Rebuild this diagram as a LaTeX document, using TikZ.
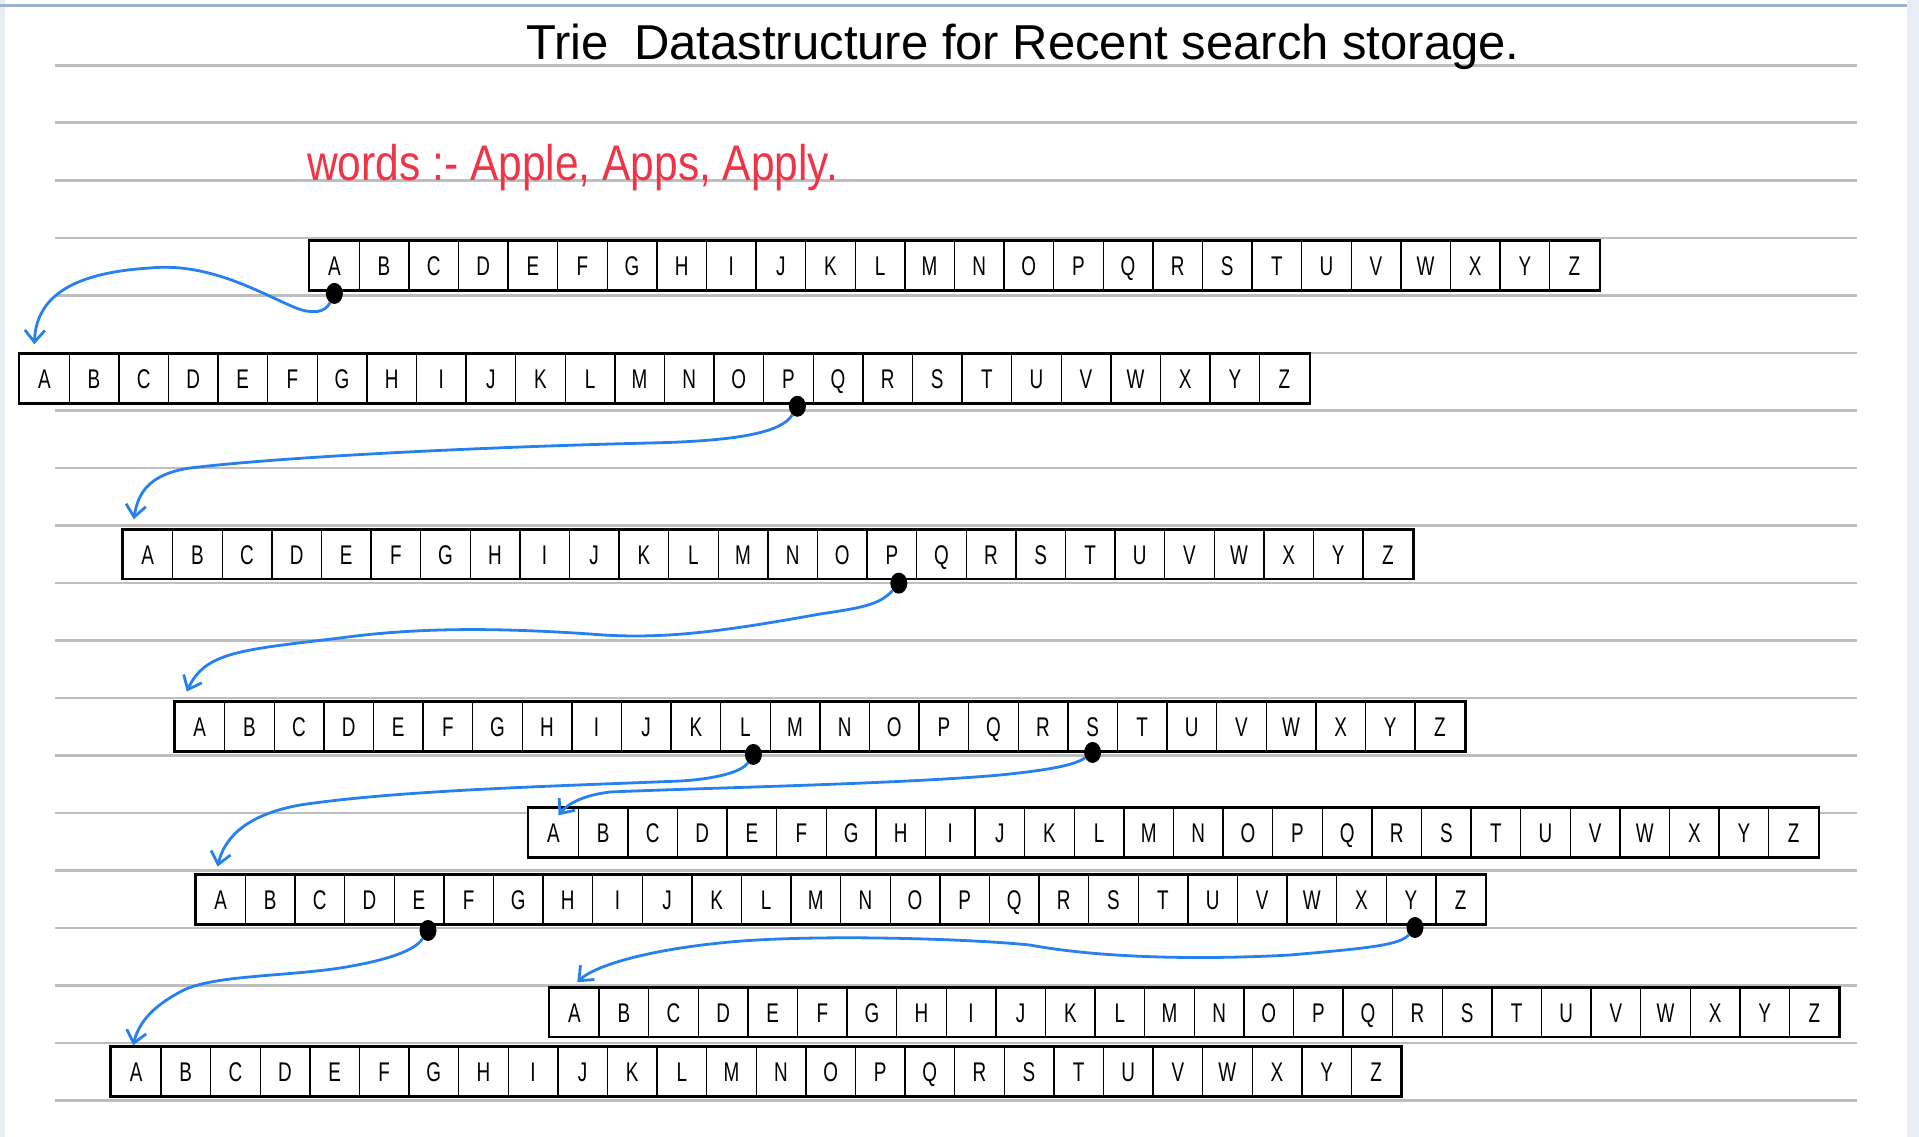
\documentclass[tikz,border=0pt]{standalone}
\usepackage{fontspec}
\usepackage{xcolor}
\usepackage{tikz}
\usetikzlibrary{arrows.meta, shapes.geometric}
\newfontfamily\handfont[FakeStretch=0.7]{Liberation Sans}
\newfontfamily\notefont[FakeStretch=0.85]{Liberation Sans}
\newfontfamily\titlefont{Liberation Sans}
\definecolor{inkblue}{RGB}{38, 128, 238}
\definecolor{inkred}{RGB}{240, 52, 72}
\definecolor{rulegray}{RGB}{190, 190, 190}
\definecolor{edgeblue}{RGB}{155, 178, 210}
\definecolor{marginblue}{RGB}{232, 237, 246}
\newcommand{\trierow}[3]{
\foreach \ch [count=\i] in {A,B,C,D,E,F,G,H,I,J,K,L,M,N,O,P,Q,R,S,T,U,V,W,X,Y,Z}
{
    \node[cell] (#1-\i) at ({#2+(\i-0.5)*49.6},#3) {\ch};
}
\draw[line width=2.6pt] (#1-1.north west) rectangle (#1-26.south east);
}

\begin{document}
\begin{tikzpicture}[x=1pt, y=-1pt,
    cell/.style={draw, fill=white, line width=1.4pt, minimum width=49.6pt,
        minimum height=48.5pt, inner sep=0pt, text height=20pt, text depth=0pt,
        font=\handfont\fontsize{27}{30}\selectfont},
    rule/.style={rulegray, line width=2.6pt},
    link/.style={inkblue, line width=2.8pt, -{Straight Barb[length=12pt, width=20pt]}},
    dot/.style={ellipse, fill=black, inner sep=0pt, minimum width=17pt, minimum height=21pt}]
    \useasboundingbox (0,0) rectangle (1919,1137);
    \fill[white] (0,0) rectangle (1919,1137);
    \fill[marginblue] (0,0) rectangle (5,1137);
    \fill[marginblue] (1907,0) rectangle (1919,1137);
    \draw[edgeblue, line width=3pt] (0,6) -- (1907,6);
    \foreach \k in {0,...,18}
    {
        \draw[rule] (55,{65.3+57.5*\k}) -- (1857,{65.3+57.5*\k});
    }
    \node[anchor=base west, inner sep=0pt, font=\titlefont\fontsize{49}{54}\selectfont] (title)
        at (526,60) {Trie\hspace{12pt} Datastructure for Recent search storage.};
    \node[anchor=base west, inner sep=0pt, text=inkred, font=\notefont\fontsize{50}{54}\selectfont] (words)
        at (307,180) {words :- Apple, Apps, Apply.};
    \trierow{r1}{309.6}{265.5}
    \trierow{r2}{19.6}{378.3}
    \trierow{r3}{123}{554.2}
    \trierow{r4}{175}{726.5}
    \trierow{r5}{528.7}{832.3}
    \trierow{r6}{195.8}{899.5}
    \trierow{r7}{549.5}{1012.2}
    \trierow{r8}{111.4}{1071.3}
    \node[dot] (d1) at ([yshift=-3pt]r1-1.south) {};
    \node[dot] (d2) at ([xshift=9pt, yshift=-3pt]r2-16.south) {};
    \node[dot] (d3) at ([xshift=7pt, yshift=-4pt]r3-16.south) {};
    \node[dot] (d4) at ([xshift=8pt, yshift=-3pt]r4-12.south) {};
    \node[dot] (d5) at ([yshift=-1pt]r4-19.south) {};
    \node[dot] (d6) at ([xshift=9pt, yshift=-6pt]r6-5.south) {};
    \node[dot] (d7) at ([xshift=4pt, yshift=-3pt]r6-25.south) {};
    \coordinate (t1) at ([xshift=-10pt, yshift=9pt]r2-1.north);
    \coordinate (t2) at ([xshift=-14pt, yshift=10pt]r3-1.north);
    \coordinate (t3) at ([xshift=-13pt, yshift=10pt]r4-1.north);
    \coordinate (t4) at ([xshift=-3pt, yshift=8pt]r6-1.north);
    \coordinate (t5) at ([xshift=5pt, yshift=-8pt]r5-1.north);
    \coordinate (t6) at ([xshift=-3pt, yshift=1pt]r8-1.north);
    \coordinate (t7) at ([xshift=3pt, yshift=5pt]r7-1.north);
    \draw[link] (d1) .. controls (325,313) and (312,314) .. (296,308)
        .. controls (262,294) and (210,262) .. (150,268)
        .. controls (85,272) and (36,290) .. (t1);
    \draw[link] (d2) .. controls (782,432) and (740,441) .. (650,443)
        .. controls (520,446) and (300,455) .. (190,468)
        .. controls (150,474) and (138,492) .. (t2);
    \draw[link] (d3) .. controls (880,605) and (860,608) .. (820,614)
        .. controls (720,632) and (660,640) .. (590,634)
        .. controls (500,628) and (420,627) .. (340,638)
        .. controls (240,650) and (205,652) .. (t3);
    \draw[link] (d4) .. controls (742,772) and (715,779) .. (680,781)
        .. controls (560,786) and (400,790) .. (300,805)
        .. controls (250,814) and (225,835) .. (t4);
    \draw[link] (d5) .. controls (1075,765) and (1050,770) .. (1000,775)
        .. controls (900,784) and (700,788) .. (610,792)
        .. controls (585,795) and (568,803) .. (t5);
    \draw[link] (d6) .. controls (415,950) and (390,960) .. (340,968)
        .. controls (280,977) and (210,975) .. (180,992)
        .. controls (150,1008) and (138,1025) .. (t6);
    \draw[link] (d7) .. controls (1400,945) and (1370,948) .. (1290,955)
        .. controls (1200,960) and (1100,958) .. (1030,945)
        .. controls (960,938) and (800,934) .. (720,943)
        .. controls (650,950) and (595,965) .. (t7);
\end{tikzpicture}
\end{document}
